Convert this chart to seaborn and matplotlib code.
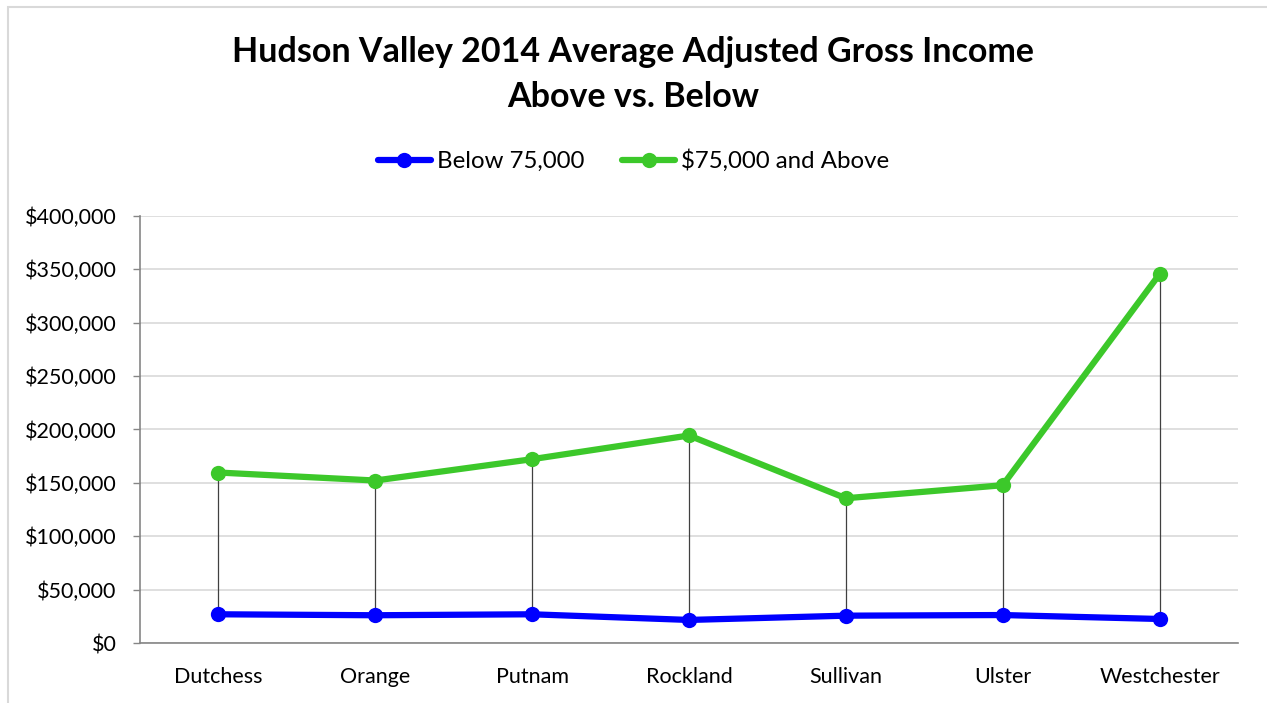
import numpy as np
import pandas as pd
import matplotlib
matplotlib.use('Agg')
import matplotlib.pyplot as plt
import matplotlib.ticker as mticker
from matplotlib.patches import Rectangle
import seaborn as sns

counties = ['Dutchess', 'Orange', 'Putnam', 'Rockland', 'Sullivan', 'Ulster', 'Westchester']
below_75k = [26900, 26000, 26900, 21600, 25600, 26200, 22500]
above_75k = [159700, 152200, 172200, 194400, 135600, 147800, 345600]
series_names = ['Below 75,000', '$75,000 and Above']
series_colors = ['#0000ff', '#3cc82a']
y_ticks = [0, 50000, 100000, 150000, 200000, 250000, 300000, 350000, 400000]

sns.set_style('white')
plt.rcParams['font.family'] = ['Lato', 'DejaVu Sans']
plt.rcParams['text.color'] = 'black'
plt.rcParams['xtick.labelcolor'] = 'black'
plt.rcParams['ytick.labelcolor'] = 'black'

df = pd.DataFrame({
    'county': counties * 2,
    'income': below_75k + above_75k,
    'group': [series_names[0]] * len(counties) + [series_names[1]] * len(counties),
})

fig = plt.figure(figsize=(12.67, 7.03), dpi=100)
ax = fig.add_axes([140 / 1267, 1 - 643 / 703, (1238 - 140) / 1267, (643 - 216) / 703])

# high-low lines between the two series
xpos = np.arange(len(counties))
ax.vlines(xpos, below_75k, above_75k, color='#404040', lw=0.9, zorder=2)

sns.lineplot(data=df, x='county', y='income', hue='group', hue_order=series_names,
             palette=series_colors, marker='o', markersize=11, markeredgewidth=0,
             linewidth=4.5, sort=False, ax=ax, zorder=3)

ax.set_xlim(-0.5, len(counties) - 0.5)
ax.set_ylim(0, 400000)
ax.set_yticks(y_ticks)
ax.yaxis.set_major_formatter(mticker.FuncFormatter(lambda v, p: '${:,.0f}'.format(v)))
ax.set_xticks(xpos)
ax.set_xticklabels(counties)
ax.set_xticks(np.arange(-0.5, len(counties)), minor=True)
ax.tick_params(axis='x', which='major', length=0, pad=17, labelsize=15.5)
ax.tick_params(axis='x', which='minor', length=9, color='#868686', width=1, direction='out')
ax.tick_params(axis='y', length=5, color='#868686', width=1, direction='out', labelsize=15.5, pad=12, left=True)
ax.set_xlabel('')
ax.set_ylabel('')
ax.grid(axis='y', color='#d9d9d9', lw=1.2)
ax.set_axisbelow(True)
for s in ['top', 'right']:
    ax.spines[s].set_visible(False)
for s in ['left', 'bottom']:
    ax.spines[s].set_color('#868686')
    ax.spines[s].set_linewidth(1.2)

leg = ax.legend(loc='center', bbox_to_anchor=(0.5, (703 - 161) / 703), bbox_transform=fig.transFigure,
                ncol=2, frameon=False, fontsize=17.3, handlelength=2.2, columnspacing=1.6,
                handletextpad=0.25)

fig.text(0.5, 1 - 52 / 703, 'Hudson Valley 2014 Average Adjusted Gross Income',
         ha='center', va='center', fontsize=24.5, fontweight='bold')
fig.text(0.5, 1 - 97 / 703, 'Above vs. Below',
         ha='center', va='center', fontsize=24.5, fontweight='bold')

# chart area border
fig.patches.append(Rectangle((8 / 1267, -0.05), 1.1, 1 - 7 / 703 + 0.05, transform=fig.transFigure,
                             fill=False, edgecolor='#d9d9d9', lw=1.5))

fig.savefig('out.png', dpi=100)
